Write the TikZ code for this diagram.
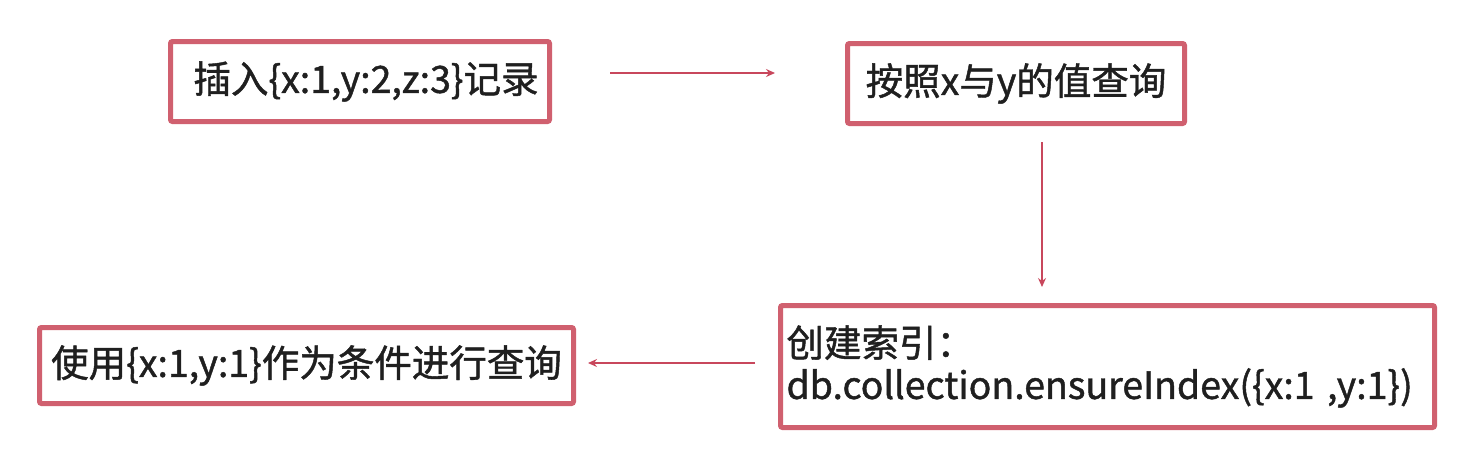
\documentclass[tikz,border=0pt]{standalone}
\usepackage{fontspec}
\setmainfont{Noto Sans CJK SC}[FakeBold=1.2]
\usetikzlibrary{arrows.meta}
\definecolor{boxred}{HTML}{D0606F}
\definecolor{arrred}{HTML}{C8475C}
\tikzset{
  box/.style={draw=boxred, line width=5pt, rounded corners=2pt, fill=white, inner sep=0pt, font=\fontsize{37.5}{42}\selectfont, text=black!88},
  arr/.style={draw=arrred, line width=1.8pt, -{Stealth[length=9pt,width=8pt,inset=3pt]}}
}
\begin{document}
\begin{tikzpicture}[x=1pt,y=-1pt]
\useasboundingbox (0,0) rectangle (1463,458);
\node[box, minimum width=379pt, minimum height=80pt] (b1) at (360,81.5) {\hspace*{12pt}插入\{x:1,y:2,z:3\}记录};
\node[box, minimum width=337pt, minimum height=80pt] (b2) at (1016,83.5) {按照x与y的值查询};
\node[box, minimum width=654pt, minimum height=122pt, align=left, text width=642pt] (b3) at (1107.5,366.5) {创建索引：\\db.collection.ensureIndex(\{x:1 ,y:1\})};
\node[box, minimum width=534pt, minimum height=76pt] (b4) at (306.5,365.5) {使用\{x:1,y:1\}作为条件进行查询};
\coordinate (h1) at (0,73);
\coordinate (v1) at (1042,0);
\coordinate (h2) at (0,363);
\draw[arr, shorten <=58pt, shorten >=70pt] (b1.east |- h1) -- (b2.west |- h1);
\draw[arr, shorten <=16pt, shorten >=16pt] (b2.south -| v1) -- (b3.north -| v1);
\draw[arr, shorten <=23pt, shorten >=12pt] (b3.west |- h2) -- (b4.east |- h2);
\end{tikzpicture}
\end{document}
